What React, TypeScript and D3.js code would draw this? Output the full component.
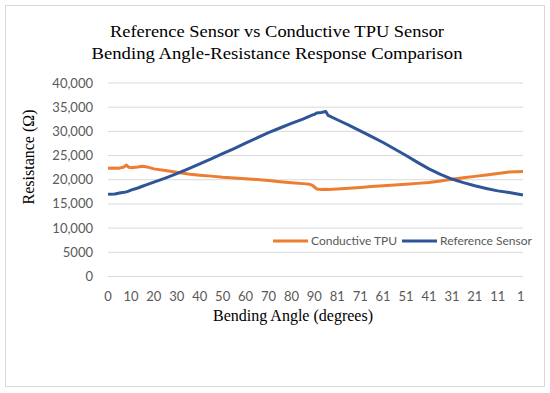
import * as d3 from "d3";

// sample index along the bending cycle (0..90 up, 90..0 back down)
const SAMPLE = [
  0, 3, 5, 7, 8, 9, 10, 13, 15, 17, 20, 25, 30, 35, 40, 45, 50, 55, 60, 65, 70,
  75, 80, 85, 88, 89, 90, 91, 93, 95, 96, 100, 105, 110, 115, 120, 125, 130, 135,
  140, 145, 150, 155, 160, 165, 170, 175, 181,
];

const TPU = [
  22400, 22450, 22400, 22650, 23050, 22600, 22500, 22650, 22800, 22650, 22250,
  21900, 21550, 21200, 20950, 20750, 20500, 20350, 20200, 20050, 19850, 19600,
  19400, 19200, 19050, 18900, 18500, 18100, 18000, 18050, 18000, 18100, 18250,
  18400, 18600, 18750, 18900, 19050, 19250, 19450, 19750, 20100, 20400, 20700,
  21000, 21300, 21600, 21700,
];

const REF = [
  17000, 17050, 17250, 17400, 17500, 17650, 17850, 18300, 18650, 19000, 19500,
  20350, 21250, 22250, 23300, 24300, 25400, 26450, 27550, 28650, 29750, 30700,
  31650, 32550, 33150, 33350, 33500, 33800, 33900, 34100, 33300, 32400, 31300,
  30100, 28900, 27700, 26350, 25000, 23600, 22250, 21100, 20150, 19400, 18750,
  18200, 17700, 17350, 16850,
];

const X_LABELS = ["0", "10", "20", "30", "40", "50", "60", "70", "80", "90", "81", "71", "61", "51", "41", "31", "21", "11", "1"];
const Y_TICKS = [0, 5000, 10000, 15000, 20000, 25000, 30000, 35000, 40000];

const W = 550;
const H = 393;
const SANS = "Lato, 'Open Sans', sans-serif";
const SERIF = "'Liberation Serif', 'DejaVu Serif', serif";
const ORANGE = "#ed7d31";
const BLUE = "#2f5597";

export default function App() {
  const x = d3.scaleLinear().domain([0, 181]).range([108, 523]);
  const y = d3.scaleLinear().domain([0, 40000]).range([276.5, 83]);

  const line = d3
    .line<number>()
    .x((_, i) => x(SAMPLE[i]))
    .y((d) => y(d));

  const fmt = (v: number) => (v >= 10000 ? d3.format(",")(v) : String(v));

  return (
    <svg
      width={W}
      height={H}
      style={{ position: "absolute", left: 0, top: 0, background: "#fff" }}
    >
      <rect x={5.5} y={5.5} width={539} height={381} fill="#fff" stroke="#d9d9d9" />

      <text x={277} y={36.5} textAnchor="middle" fontFamily={SERIF} fontSize={17} fill="#000"
        textLength={334} lengthAdjust="spacingAndGlyphs">
        Reference Sensor vs Conductive TPU Sensor
      </text>
      <text x={277} y={59} textAnchor="middle" fontFamily={SERIF} fontSize={17} fill="#000"
        textLength={371} lengthAdjust="spacingAndGlyphs">
        Bending Angle-Resistance Response Comparison
      </text>

      {/* grid */}
      {Y_TICKS.map((t) => (
        <line key={t} x1={x(0)} x2={x(181)} y1={y(t)} y2={y(t)} stroke="#d9d9d9" strokeWidth={1} />
      ))}

      {/* y tick labels */}
      {Y_TICKS.map((t) => (
        <text key={"l" + t} x={93} y={y(t)} dy="0.35em" textAnchor="end" fontFamily={SANS} fontSize={13} fill="#595959">
          {fmt(t)}
        </text>
      ))}

      {/* x tick labels */}
      {X_LABELS.map((lab, i) => (
        <text key={"x" + i} x={x(i * 10)} y={296} dy="0.35em" textAnchor="middle" fontFamily={SANS} fontSize={13} fill="#595959">
          {lab}
        </text>
      ))}

      <path d={line(TPU) ?? ""} fill="none" stroke={ORANGE} strokeWidth={3} strokeLinejoin="round" />
      <path d={line(REF) ?? ""} fill="none" stroke={BLUE} strokeWidth={3} strokeLinejoin="round" />

      {/* legend */}
      <line x1={273} x2={308} y1={241} y2={241} stroke={ORANGE} strokeWidth={3} />
      <text x={311} y={241} dy="0.35em" fontFamily={SANS} fontSize={12} fill="#595959">Conductive TPU</text>
      <line x1={402} x2={437} y1={241} y2={241} stroke={BLUE} strokeWidth={3} />
      <text x={440} y={241} dy="0.35em" fontFamily={SANS} fontSize={12} fill="#595959">Reference Sensor</text>

      {/* axis titles */}
      <text x={293} y={321} textAnchor="middle" fontFamily={SERIF} fontSize={16} fill="#000">
        Bending Angle (degrees)
      </text>
      <text transform="translate(34,157) rotate(-90)" textAnchor="middle" fontFamily={SERIF} fontSize={16} fill="#000">
        Resistance (Ω)
      </text>
    </svg>
  );
}
